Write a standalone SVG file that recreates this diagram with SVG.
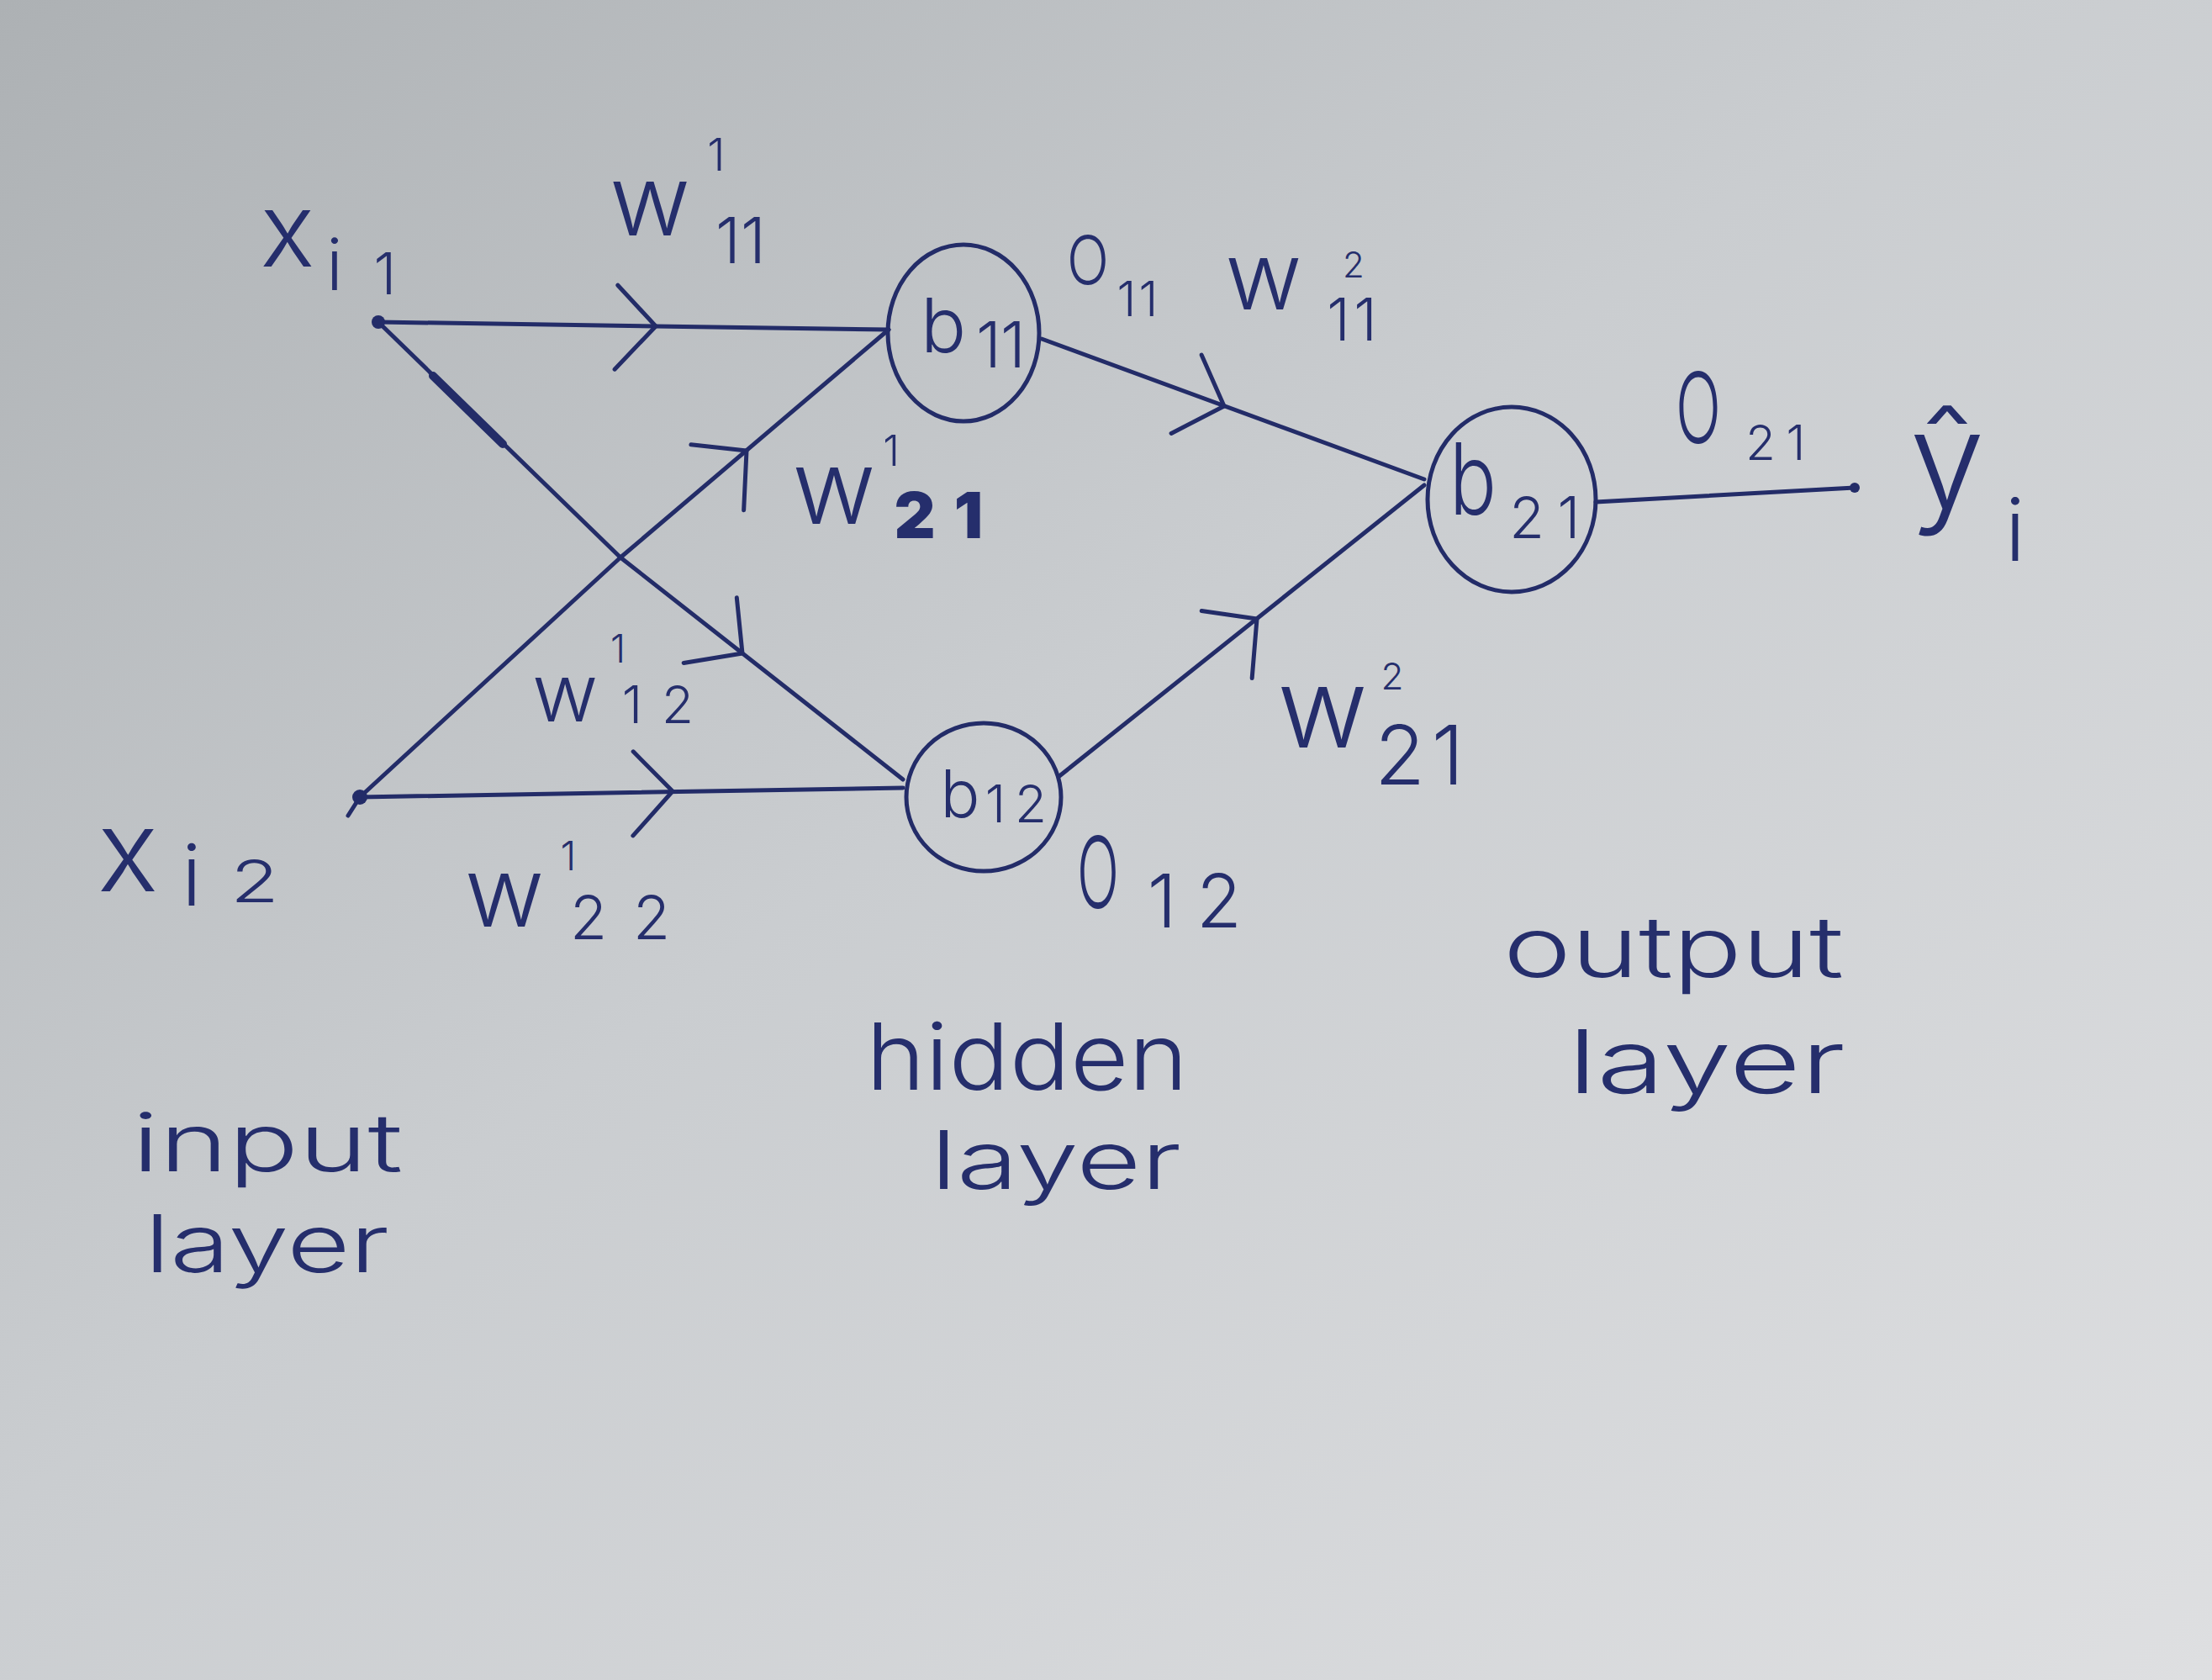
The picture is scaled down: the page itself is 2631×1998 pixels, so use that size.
<svg xmlns="http://www.w3.org/2000/svg" width="2631" height="1998" viewBox="0 0 2631 1998">
<defs>
<linearGradient id="paper" x1="0" y1="0" x2="1" y2="1">
<stop offset="0" stop-color="#adb1b4"/>
<stop offset="0.45" stop-color="#cacdd0"/>
<stop offset="1" stop-color="#dedfe1"/>
</linearGradient>
<path id="chev" d="M-46 -48 L0 0 L-48 52"/>
<style>
.ink{fill:none;stroke:#232c68;stroke-width:5;stroke-linecap:round;stroke-linejoin:round}
.node{fill:none;stroke:#232c68;stroke-width:5}
.dot{fill:#232c68}
.t{font-family:Inter,Lato,Roboto,sans-serif;font-weight:300;fill:#252e6c;text-anchor:middle}
.s{text-anchor:start}
.b{font-weight:900}
</style>
</defs>
<rect x="0" y="0" width="2631" height="1998" fill="url(#paper)"/>

<g id="connectors">
<path class="ink" d="M450 383 L1057 392"/>
<path class="ink" d="M450 383 L738 663 L1074 927"/>
<path class="ink" d="M515 447 L598 528" style="stroke-width:10"/>
<path class="ink" d="M428 948 L738 663 L1057 392"/>
<path class="ink" d="M428 948 L1074 937"/>
<path class="ink" d="M1239 403 L1694 570"/>
<path class="ink" d="M1260 923 L1694 577"/>
<path class="ink" d="M1898 597 L2206 580"/>
<use href="#chev" class="ink" transform="translate(780 388) rotate(1)"/>
<use href="#chev" class="ink" transform="translate(883 777) rotate(38)"/>
<use href="#chev" class="ink" transform="translate(888 536) rotate(-40)"/>
<use href="#chev" class="ink" transform="translate(800 941) rotate(-1)"/>
<use href="#chev" class="ink" transform="translate(1456 483) rotate(20)"/>
<use href="#chev" class="ink" transform="translate(1495 736) rotate(-38)"/>
</g>

<g id="node-x1">
<circle class="dot" cx="450" cy="383" r="8"/>
<text class="t" x="342" y="317" font-size="122">x</text>
<text class="t" x="398" y="345" font-size="85">i</text>
<text class="t" x="458" y="350" font-size="68">1</text>
</g>

<g id="node-x2">
<circle class="dot" cx="428" cy="948" r="9"/>
<path class="ink" d="M428 948 L414 970"/>
<text class="t" x="152" y="1060" font-size="136">x</text>
<text class="t" x="228" y="1077" font-size="100">i</text>
<text class="t" x="303" y="1073" font-size="70" textLength="58" lengthAdjust="spacingAndGlyphs">2</text>
</g>

<g id="node-b11">
<ellipse class="node" cx="1146" cy="396" rx="90" ry="105"/>
<text class="t" x="1122" y="419" font-size="90">b</text>
<text class="t" x="1176 1205" y="437" font-size="76">11</text>
</g>

<g id="node-b12">
<ellipse class="node" cx="1170" cy="948" rx="92" ry="88"/>
<text class="t" x="1142" y="972" font-size="78">b</text>
<text class="t" x="1184 1226" y="978" font-size="62">12</text>
</g>

<g id="node-b21">
<ellipse class="node" cx="1798" cy="594" rx="100" ry="110"/>
<text class="t" x="1752" y="612" font-size="118" textLength="56" lengthAdjust="spacingAndGlyphs">b</text>
<text class="t" x="1816 1866" y="640" font-size="68">21</text>
</g>

<g id="node-yhat">
<circle class="dot" cx="2206" cy="580" r="6"/>
<text class="t" x="2316" y="604" font-size="160">ŷ</text>
<text class="t" x="2397" y="667" font-size="102">i</text>
</g>

<g id="edge-labels">
<text class="t" x="773" y="280" font-size="118">w</text>
<text class="t" x="852" y="203" font-size="54">1</text>
<text class="t" x="866 896" y="313" font-size="76">11</text>

<text class="t" x="1294" y="338" font-size="80" textLength="50" lengthAdjust="spacingAndGlyphs">O</text>
<text class="t" x="1340 1366" y="376" font-size="58">11</text>

<text class="t" x="1503" y="368" font-size="112">w</text>
<text class="t" x="1610" y="330" font-size="42">2</text>
<text class="t" x="1592 1624" y="405" font-size="70">11</text>

<text class="t" x="992" y="623" font-size="122">w</text>
<text class="t" x="1060" y="554" font-size="50">1</text>
<text class="t b" x="1088 1152" y="640" font-size="76">21</text>

<text class="t" x="672" y="858" font-size="96">w</text>
<text class="t" x="735" y="788" font-size="46">1</text>
<text class="t" x="752 806" y="860" font-size="62">12</text>

<text class="t" x="600" y="1102" font-size="116">w</text>
<text class="t" x="676" y="1035" font-size="48">1</text>
<text class="t" x="700 775" y="1117" font-size="72">22</text>

<text class="t" x="1306" y="1080" font-size="118" textLength="50" lengthAdjust="spacingAndGlyphs">O</text>
<text class="t" x="1382 1450" y="1103" font-size="88">12</text>

<text class="t" x="1573" y="889" font-size="132">w</text>
<text class="t" x="1656" y="820" font-size="44">2</text>
<text class="t" x="1665 1722" y="933" font-size="98">21</text>

<text class="t" x="2020" y="527" font-size="116" textLength="54" lengthAdjust="spacingAndGlyphs">O</text>
<text class="t" x="2094 2136" y="547" font-size="58">21</text>
</g>

<g id="layer-labels">
<text class="t s" x="157" y="1393" font-size="95" textLength="322" lengthAdjust="spacingAndGlyphs">input</text>
<text class="t s" x="172" y="1513" font-size="95" textLength="291" lengthAdjust="spacingAndGlyphs">layer</text>
<text class="t s" x="1030" y="1296" font-size="110" textLength="383" lengthAdjust="spacingAndGlyphs">hidden</text>
<text class="t s" x="1107" y="1414" font-size="96" textLength="298" lengthAdjust="spacingAndGlyphs">layer</text>
<text class="t s" x="1788" y="1162" font-size="100" textLength="405" lengthAdjust="spacingAndGlyphs">output</text>
<text class="t s" x="1865" y="1300" font-size="105" textLength="330" lengthAdjust="spacingAndGlyphs">layer</text>
</g>
</svg>
